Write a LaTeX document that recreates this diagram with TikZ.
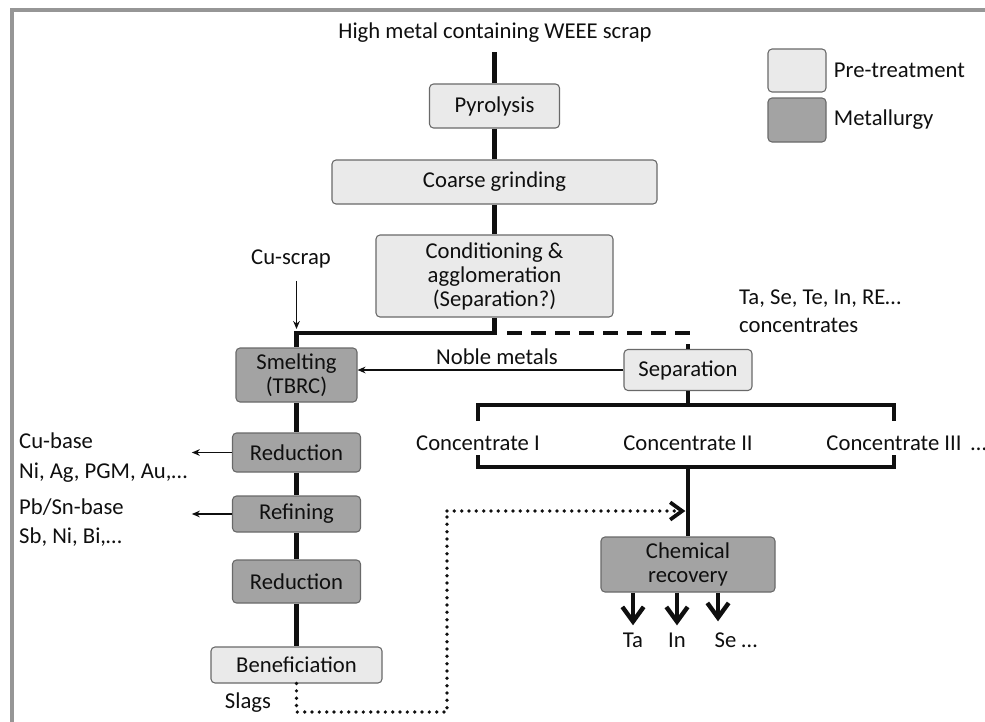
\documentclass[tikz,border=0pt]{standalone}
\usepackage{fontspec}
\setmainfont{Carlito}
\usepackage{tikz}
\usetikzlibrary{arrows.meta,positioning}
\definecolor{PreGray}{RGB}{234,234,234}
\definecolor{MetGray}{RGB}{163,163,163}
\definecolor{EdgeGray}{RGB}{105,105,105}
\definecolor{FrameGray}{RGB}{150,150,150}
\definecolor{InkGray}{RGB}{15,15,15}

\begin{document}
\begin{tikzpicture}[x=0.75pt,y=-0.75pt,
  font=\fontsize{17}{18}\selectfont, text=InkGray,
  box/.style={draw=EdgeGray, line width=0.8pt, rounded corners=3pt,
              align=center, inner sep=1pt},
  prebox/.style={box, fill=PreGray},
  metbox/.style={box, fill=MetGray},
  flow/.style={line width=3.3pt, draw=InkGray},
  thinarr/.style={line width=1pt, draw=InkGray, -{Stealth[length=6pt,width=5pt]}},
  outarr/.style={flow, -{Straight Barb[length=11pt,width=16pt]}},
  dotline/.style={line width=2.8pt, draw=InkGray, line cap=round,
                  dash pattern=on 0pt off 5.5pt},
  ]
\useasboundingbox (0,0) rectangle (985,721);
\draw[FrameGray, line width=3pt] (12,725) -- (12,10) -- (990,10);

% pre-treatment chain
\node (ttl) at (495,33) {High metal containing WEEE scrap};
\node[prebox, minimum width=97.5pt, minimum height=33pt] (pyro) at (494.5,106) {Pyrolysis};
\node[prebox, minimum width=243.75pt, minimum height=33pt] (grind) at (494.5,182) {Coarse grinding};
\node[prebox, minimum width=177.75pt, minimum height=61.5pt] (cond) at (494.5,276)
  {Conditioning \&\\agglomeration\\(Separation?)};

% legend
\node[prebox, minimum width=43.5pt, minimum height=32.25pt] (legpre) at (797,70.5) {};
\node[right=2pt of legpre] (legpret) {Pre-treatment};
\node[metbox, minimum width=43.5pt, minimum height=33pt] (legmet) at (797,120) {};
\node[right=2pt of legmet] (legmett) {Metallurgy};

% metallurgy column
\node[metbox, minimum width=90.75pt, minimum height=40.5pt] (smelt) at (296.5,375) {Smelting\\(TBRC)};
\node[metbox, minimum width=96pt, minimum height=29.25pt] (red1) at (296.5,452.5) {Reduction};
\node[metbox, minimum width=96pt, minimum height=27pt] (refin) at (296.5,514) {Refining};
\node[metbox, minimum width=96pt, minimum height=32.25pt] (red2) at (296.5,581.5) {Reduction};
\node[prebox, minimum width=128.25pt, minimum height=27pt] (benef) at (296.5,665) {Beneficiation};

\node (cu) at (291,259) {Cu-scrap};
\node[anchor=west, align=left] (cubase) at (14.5,457.5) {Cu-base\\[4pt]Ni, Ag, PGM, Au,…};
\node[anchor=west, align=left] (pbsn) at (14.5,522.5) {Pb/Sn-base\\[4pt]Sb, Ni, Bi,…};
\node (slags) at (248,703) {Slags};

% separation branch
\node[prebox, minimum width=96pt, minimum height=30.75pt] (sep) at (688,370) {Separation};
\node[anchor=west, align=left] (conc) at (734.5,311) {Ta, Se, Te, In, RE…\\[3pt]concentrates};
\node (noble) at (497,357) {Noble metals};
\node (c1) at (478,443) {Concentrate I};
\node (c2) at (688,443) {Concentrate II};
\node (c3) at (894,443) {Concentrate III\rlap{\hspace{7pt}…}};
\node[metbox, minimum width=130.5pt, minimum height=41.25pt] (chem) at (688,564.5) {Chemical\\recovery};
\node (ta) at (633,640) {Ta};
\node (in) at (677,640) {In};
\node[anchor=west] (se) at (710,640) {Se …};

\coordinate (jn) at (494.5,333);
\coordinate (dsh) at (507,333);
\coordinate (brtop) at (0,405);
\coordinate (brtopend) at (0,421);
\coordinate (brbot) at (0,467);
\coordinate (brbotend) at (0,455);
\coordinate (dotc) at (447,712);
\coordinate (dotu) at (447,511);

% connectors
\draw[flow, shorten >=3pt] (pyro.north) -- (pyro.north |- ttl.south);
\draw[flow] (pyro.south) -- (pyro.south |- grind.north);
\draw[flow] (grind.south) -- (cond.north);
\draw[flow] (cond.south) -- (jn) -| (smelt.north);
\draw[flow, dash pattern=on 11pt off 7pt] (dsh) -| (sep.north);
\draw[thinarr, shorten <=6pt, shorten >=3pt] (cu.south -| smelt.north) -- (smelt.north |- jn);
\draw[thinarr] (sep.west) -- (sep.west -| smelt.east);

\draw[flow] (smelt) -- (red1);
\draw[flow] (red1) -- (refin);
\draw[flow] (refin) -- (red2);
\draw[flow] (red2) -- (benef);
\draw[thinarr] (red1.west) -- (red1.west -| cubase.east);
\draw[thinarr] (refin.west) -- (refin.west -| cubase.east);

\draw[flow] (sep.south) -- (sep.south |- brtop);
\draw[flow] (c1 |- brtopend) |- (c3 |- brtop) -- (c3 |- brtopend);
\draw[flow] (c1 |- brbotend) |- (c3 |- brbot) -- (c3 |- brbotend);
\draw[flow] (c2 |- brbot) -- (chem.north);

\draw[dotline] (benef.south) -- (benef.south |- dotc) -- (dotc) -- (dotu);
\draw[dotline, -{Straight Barb[length=9pt,width=13pt,line cap=butt]}, shorten >=2pt]
  (dotu) -- (dotu -| chem.north);

\draw[outarr, shorten >=2pt] (chem.south -| ta) -- (ta.north);
\draw[outarr, shorten >=2pt] (chem.south -| in) -- (in.north);
\draw[outarr, shorten >=2pt] (chem.south -| 718,0) -- (718,624);
\end{tikzpicture}
\end{document}
